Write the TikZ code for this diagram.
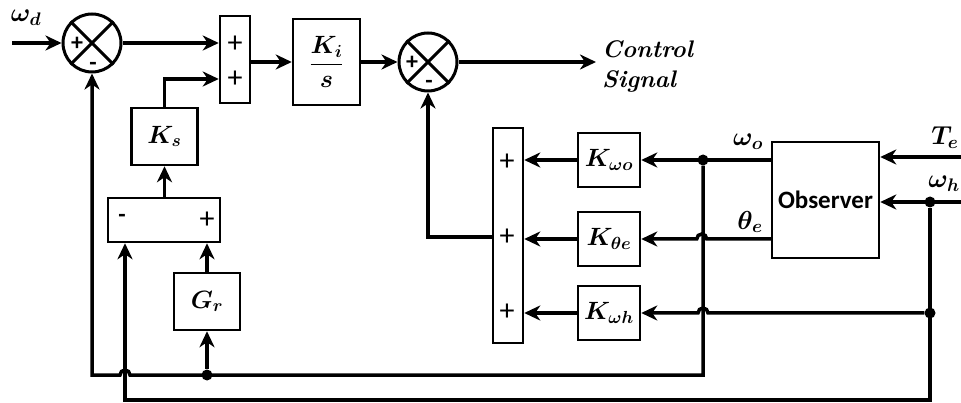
\RequirePackage{fix-cm}
\documentclass[tikz,border=0pt]{standalone}
\usepackage{fontspec}
\newfontfamily\calfont{Carlito}
\usepackage{amsmath}
\usepackage{bm}
\usetikzlibrary{arrows.meta}
\tikzset{
  blk/.style={draw, line width=2.5pt, minimum width=66pt, minimum height=57pt, inner sep=0pt, font=\fontsize{25}{29}\selectfont},
  sumbar/.style={draw, line width=2.5pt, inner sep=0pt},
  summer/.style={draw, circle, line width=3pt, minimum size=58pt, inner sep=0pt},
  sig/.style={line width=3.5pt, -{Stealth[length=16pt,width=15pt,inset=5pt]}},
  wire/.style={line width=3.5pt},
  dot/.style={circle, fill, inner sep=0pt, minimum size=11pt},
  pls/.style={font=\calfont\fontsize{30}{32}\selectfont, inner sep=0pt},
  sgn/.style={font=\calfont\bfseries\fontsize{24}{26}\selectfont, inner sep=0pt},
  lbl/.style={font=\fontsize{26}{30}\selectfont, inner sep=0pt}
}
\begin{document}
\begin{tikzpicture}[x=1pt,y=-1pt]
\useasboundingbox (0,0) rectangle (961,403);

\node[summer] (s1) at (92,43) {};
\draw[line width=3pt] (s1.45) -- (s1.225) (s1.135) -- (s1.315);
\node[sgn] (s1p) at (77,44) {+};
\node[sgn] (s1m) at (93,66) {-};
\node[lbl] (wd) at (26,18) {$\bm{\omega_d}$};

\node[sumbar, minimum width=30pt, minimum height=87pt] (sA) at (235,59.5) {};
\node[pls] (sAp1) at (235,44) {+};
\node[pls] (sAp2) at (235,79) {+};

\node[blk, minimum width=67pt, minimum height=86pt] (Ki) at (326.5,62) {$\dfrac{\bm{K_i}}{\bm{s}}$};

\node[summer] (s2) at (428,62) {};
\draw[line width=3pt] (s2.45) -- (s2.225) (s2.135) -- (s2.315);
\node[sgn] (s2p) at (412,63) {+};
\node[sgn] (s2m) at (429,84) {-};
\node[anchor=west, align=left, inner xsep=6pt, inner ysep=0pt, font=\bfseries\itshape\fontsize{24}{30}\selectfont] (ctl) at (596,66) {Control\\Signal};

\node[blk] (Ks) at (164.5,136.5) {$\bm{K_s}$};
\node[sumbar, minimum width=112pt, minimum height=44pt] (df) at (164,220) {};
\node[sgn] (dfm) at (122,218) {-};
\node[pls] (dfp) at (207,220) {+};
\node[blk] (Gr) at (207,301.5) {$\bm{G_r}$};

\node[sumbar, minimum width=30pt, minimum height=215pt] (sB) at (508,235.5) {};
\node[pls] (sBp1) at (507,162) {+};
\node[pls] (sBp2) at (507,237) {+};
\node[pls] (sBp3) at (507,312) {+};

\node[blk, minimum width=62pt, minimum height=54pt] (Kwo) at (609,160) {$\bm{K_{\omega o}}$};
\node[blk, minimum width=62pt, minimum height=54pt] (Kte) at (609,239) {$\bm{K_{\theta e}}$};
\node[blk, minimum width=62pt, minimum height=54pt] (Kwh) at (609,313) {$\bm{K_{\omega h}}$};

\node[draw, line width=2.5pt, minimum width=107pt, minimum height=116pt, font=\calfont\bfseries\fontsize{25}{28}\selectfont] (obs) at (825.5,200) {Observer};
\node[lbl] (wo) at (748,142) {$\bm{\omega_o}$};
\node[lbl] (te) at (750,222) {$\bm{\theta_e}$};
\node[lbl] (Te) at (945,138) {$\bm{T_e}$};
\node[lbl] (wh) at (944,184) {$\bm{\omega_h}$};

\node[dot] (d1) at (703,160) {};
\node[dot] (d2) at (207,375) {};
\node[dot] (d3) at (930,202) {};
\node[dot] (d4) at (930,313) {};
\coordinate (in) at (12,43);
\coordinate (Tin) at (961,157);
\coordinate (whin) at (961,202);
\coordinate (c1) at (703,375);
\coordinate (c2) at (930,400);
\coordinate (c3) at (125,400);

\draw[sig] (in) -- (s1.west);
\draw[sig] (s1.east) -- (sA.west |- s1.east);
\draw[sig] (sA.east |- Ki.west) -- (Ki.west);
\draw[sig] (Ki.east) -- (s2.west);
\draw[sig] (s2.east) -- (s2.east -| ctl.west);
\draw[sig] (Ks.north) |- (sA.west |- sAp2);
\draw[sig] (df.north -| Ks) -- (Ks.south);
\draw[sig] (Gr.north) -- (Gr.north |- df.south);
\draw[sig] (d2) -- (Gr.south);
\draw[sig] (sB.west |- sBp2) -| (s2.south);
\draw[sig] (Kwo.west) -- (sB.east |- Kwo.west);
\draw[sig] (Kte.west) -- (sB.east |- Kte.west);
\draw[sig] (Kwh.west) -- (sB.east |- Kwh.west);
\draw[sig] (obs.west |- Kwo) -- (Kwo.east);
\draw[sig] (obs.west |- Kte) -- ++(-64,0) arc[start angle=0, end angle=180, radius=5pt] -- (Kte.east);
\draw[sig] (d4) -- ++(-222,0) arc[start angle=0, end angle=180, radius=5pt] -- (Kwh.east);
\draw[sig] (Tin) -- (obs.east |- Tin);
\draw[sig] (whin) -- (obs.east |- whin);
\draw[sig] (d3) -- (c2) -- (c3) -- (c3 |- df.south);
\draw[sig] (d1) -- (c1) -- ++(-573,0) arc[start angle=0, end angle=180, radius=5pt] -| (s1.south);
\end{tikzpicture}
\end{document}
